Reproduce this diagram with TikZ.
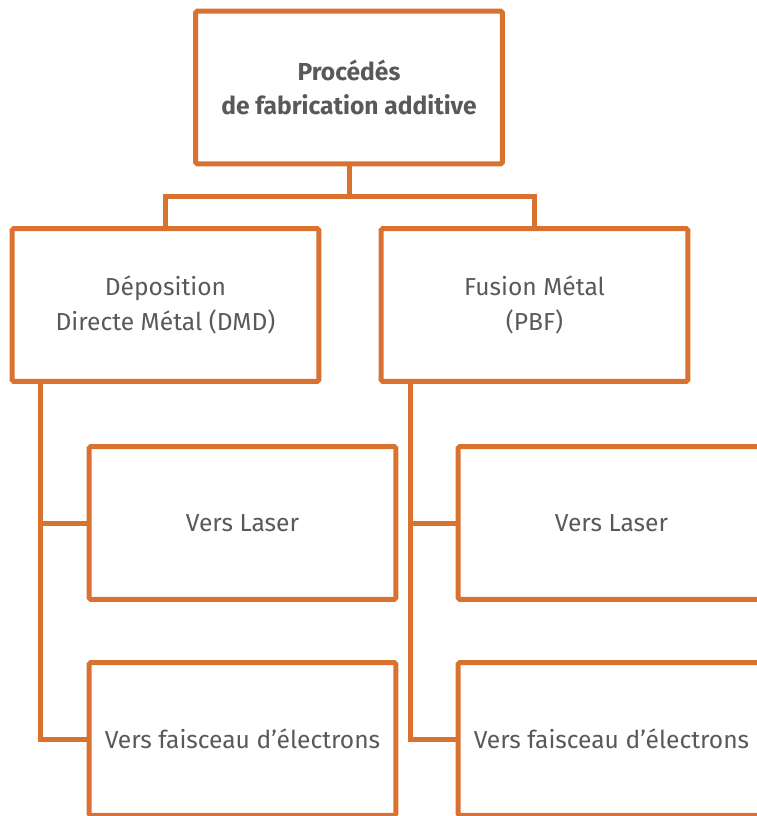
\documentclass[tikz,border=0pt]{standalone}
\usepackage{fontspec}
\setmainfont{Fira Sans}
\usetikzlibrary{calc}
\definecolor{orangeline}{RGB}{217,114,48}
\definecolor{textgray}{RGB}{89,89,89}
\tikzset{
    % boxes of the tree
    boite/.style={
           rectangle,
           rounded corners=1pt,
           draw=orangeline, line width=0.1cm,
           text=textgray,
           align=center,
           font=\fontsize{14}{19.5}\selectfont,
           minimum width=6.14cm,
           minimum height=3.06cm,
           inner sep=0pt},
    % lines between boxes
    lien/.style={
           draw=orangeline,
           line width=0.1cm}
}
\begin{document}
\begin{tikzpicture}[x=0.02cm,y=-0.02cm]
\useasboundingbox (0,0) rectangle (757,816);
\clip (0,0) rectangle (757,816);
\node[boite, font=\bfseries\fontsize{14}{19.5}\selectfont] (procedes) at (349,87.5) {Procédés\\de fabrication additive};
\node[boite] (dmd) at (165.5,305) {Déposition\\Directe Métal (DMD)};
\node[boite] (pbf) at (534.5,305) {Fusion Métal\\(PBF)};
\node[boite] (dmd-laser) at (242.5,523) {Vers Laser};
\node[boite] (dmd-eb) at (242.5,739) {Vers faisceau d’électrons};
\node[boite] (pbf-laser) at (611.5,523) {Vers Laser};
\node[boite] (pbf-eb) at (611.5,739) {Vers faisceau d’électrons};

\coordinate (fourche) at (349,196);
\coordinate (dmd-tige) at ($(dmd.south west)+(31,0)$);
\coordinate (pbf-tige) at ($(pbf.south west)+(32,0)$);

\draw[lien] (procedes.south) -- (fourche) -| (dmd.north);
\draw[lien] (fourche) -| (pbf.north);
\draw[lien] (dmd-tige) |- (dmd-laser.west);
\draw[lien] (dmd-tige) |- (dmd-eb.west);
\draw[lien] (pbf-tige) |- (pbf-laser.west);
\draw[lien] (pbf-tige) |- (pbf-eb.west);
\end{tikzpicture}
\end{document}
